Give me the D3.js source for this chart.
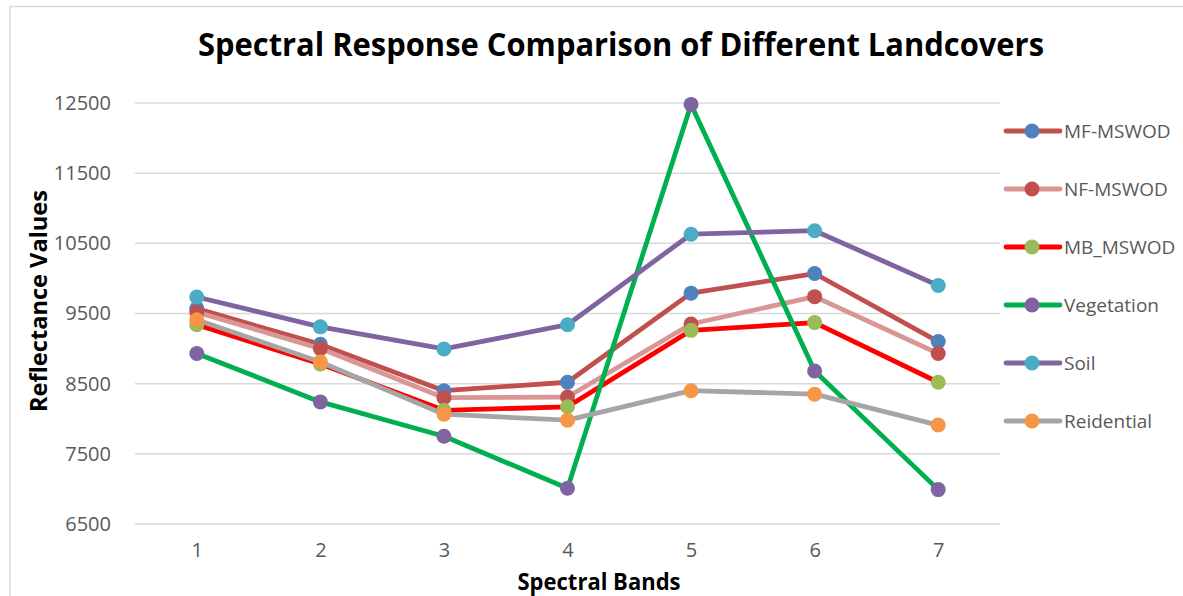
<!DOCTYPE html>
<html>
<head>
<meta charset="utf-8">
<script src="https://cdn.jsdelivr.net/npm/d3@7"></script>
<style>
  html, body { margin: 0; padding: 0; background: #fff; }
  svg { display: block; }
</style>
</head>
<body>
<svg id="chart" width="1183" height="596"></svg>
<script>
// ---- Data ----
const bands = [1, 2, 3, 4, 5, 6, 7];
const yTicks = [6500, 7500, 8500, 9500, 10500, 11500, 12500];
const seriesNames = ["MF-MSWOD", "NF-MSWOD", "MB_MSWOD", "Vegetation", "Soil", "Reidential"];
const mfMswod    = [9570, 9060, 8400, 8520, 9790, 10070, 9100];
const nfMswod    = [9520, 9000, 8300, 8310, 9350, 9740, 8930];
const mbMswod    = [9340, 8780, 8120, 8170, 9260, 9370, 8520];
const vegetation = [8930, 8240, 7750, 7010, 12480, 8680, 6990];
const soil       = [9735, 9310, 8995, 9340, 10630, 10680, 9900];
const reidential = [9410, 8810, 8065, 7980, 8400, 8350, 7910];
const lineColors   = ["#C0504D", "#D99694", "#FF0000", "#00B050", "#8064A2", "#A5A5A5"];
const markerColors = ["#4F81BD", "#C0504D", "#9BBB59", "#8064A2", "#4BACC6", "#F79646"];

const allValues = [mfMswod, nfMswod, mbMswod, vegetation, soil, reidential];
const series = seriesNames.map((name, i) => ({
  name, values: allValues[i], line: lineColors[i], marker: markerColors[i]
}));

// ---- Layout ----
const svg = d3.select("#chart");
const W = 1183, H = 596;
const plot = { left: 135, right: 1000, top: 103, bottom: 524 };
const font = "'Open Sans', 'Liberation Sans', sans-serif";

// chart border
svg.append("rect").attr("x", 10).attr("y", 6.5).attr("width", W + 20).attr("height", H + 20)
  .attr("fill", "#fff").attr("stroke", "#D9D9D9").attr("stroke-width", 1.5);

const x = d3.scalePoint().domain(bands).range([plot.left, plot.right]).padding(0.5);
const y = d3.scaleLinear().domain([6500, 12500]).range([plot.bottom, plot.top]);

// gridlines
svg.append("g").selectAll("line").data(yTicks).join("line")
  .attr("x1", plot.left).attr("x2", plot.right)
  .attr("y1", d => y(d)).attr("y2", d => y(d))
  .attr("stroke", "#D9D9D9").attr("stroke-width", 1.5);

// y axis labels
const yAxis = svg.append("g").attr("transform", `translate(${plot.left},0)`)
  .call(d3.axisLeft(y).tickValues(yTicks).tickSize(0).tickPadding(24).tickFormat(d3.format("d")));
yAxis.select(".domain").remove();
yAxis.selectAll("text").attr("font-family", font).attr("font-size", 20).attr("fill", "#595959");

// x axis labels
const xAxis = svg.append("g").attr("transform", `translate(0,${plot.bottom})`)
  .call(d3.axisBottom(x).tickSize(0).tickPadding(19));
xAxis.select(".domain").remove();
xAxis.selectAll("text").attr("font-family", font).attr("font-size", 20).attr("fill", "#595959");

// lines & markers
const line = d3.line().x((d, i) => x(bands[i])).y(d => y(d));
series.forEach(s => {
  const g = svg.append("g");
  g.append("path").attr("d", line(s.values)).attr("fill", "none")
    .attr("stroke", s.line).attr("stroke-width", 4.8)
    .attr("stroke-linejoin", "round").attr("stroke-linecap", "round");
  g.selectAll("circle").data(s.values).join("circle")
    .attr("cx", (d, i) => x(bands[i])).attr("cy", d => y(d)).attr("r", 7.5)
    .attr("fill", s.marker);
});

// title
svg.append("text").attr("x", 621).attr("y", 56).attr("text-anchor", "middle")
  .attr("font-family", font).attr("font-weight", "bold").attr("font-size", 33)
  .attr("textLength", 846).attr("lengthAdjust", "spacingAndGlyphs")
  .attr("fill", "#000").text("Spectral Response Comparison of Different Landcovers");

// axis titles
svg.append("text").attr("x", 599).attr("y", 590).attr("text-anchor", "middle")
  .attr("font-family", font).attr("font-weight", "bold").attr("font-size", 23)
  .attr("textLength", 163).attr("lengthAdjust", "spacingAndGlyphs")
  .attr("fill", "#000").text("Spectral Bands");

svg.append("text").attr("transform", "translate(47,301) rotate(-90)").attr("text-anchor", "middle")
  .attr("font-family", font).attr("font-weight", "bold").attr("font-size", 23)
  .attr("textLength", 222).attr("lengthAdjust", "spacingAndGlyphs")
  .attr("fill", "#000").text("Reflectance Values");

// legend
const legend = svg.append("g");
const legendTop = 131, legendStep = 58;
series.forEach((s, i) => {
  const ly = legendTop + i * legendStep;
  legend.append("line").attr("x1", 1006).attr("x2", 1060).attr("y1", ly).attr("y2", ly)
    .attr("stroke", s.line).attr("stroke-width", 4.8).attr("stroke-linecap", "round");
  legend.append("circle").attr("cx", 1032).attr("cy", ly).attr("r", 7.5).attr("fill", s.marker);
  legend.append("text").attr("x", 1064).attr("y", ly).attr("dy", "0.36em")
    .attr("font-family", font).attr("font-size", 19).attr("fill", "#595959").text(s.name);
});
</script>
</body>
</html>
